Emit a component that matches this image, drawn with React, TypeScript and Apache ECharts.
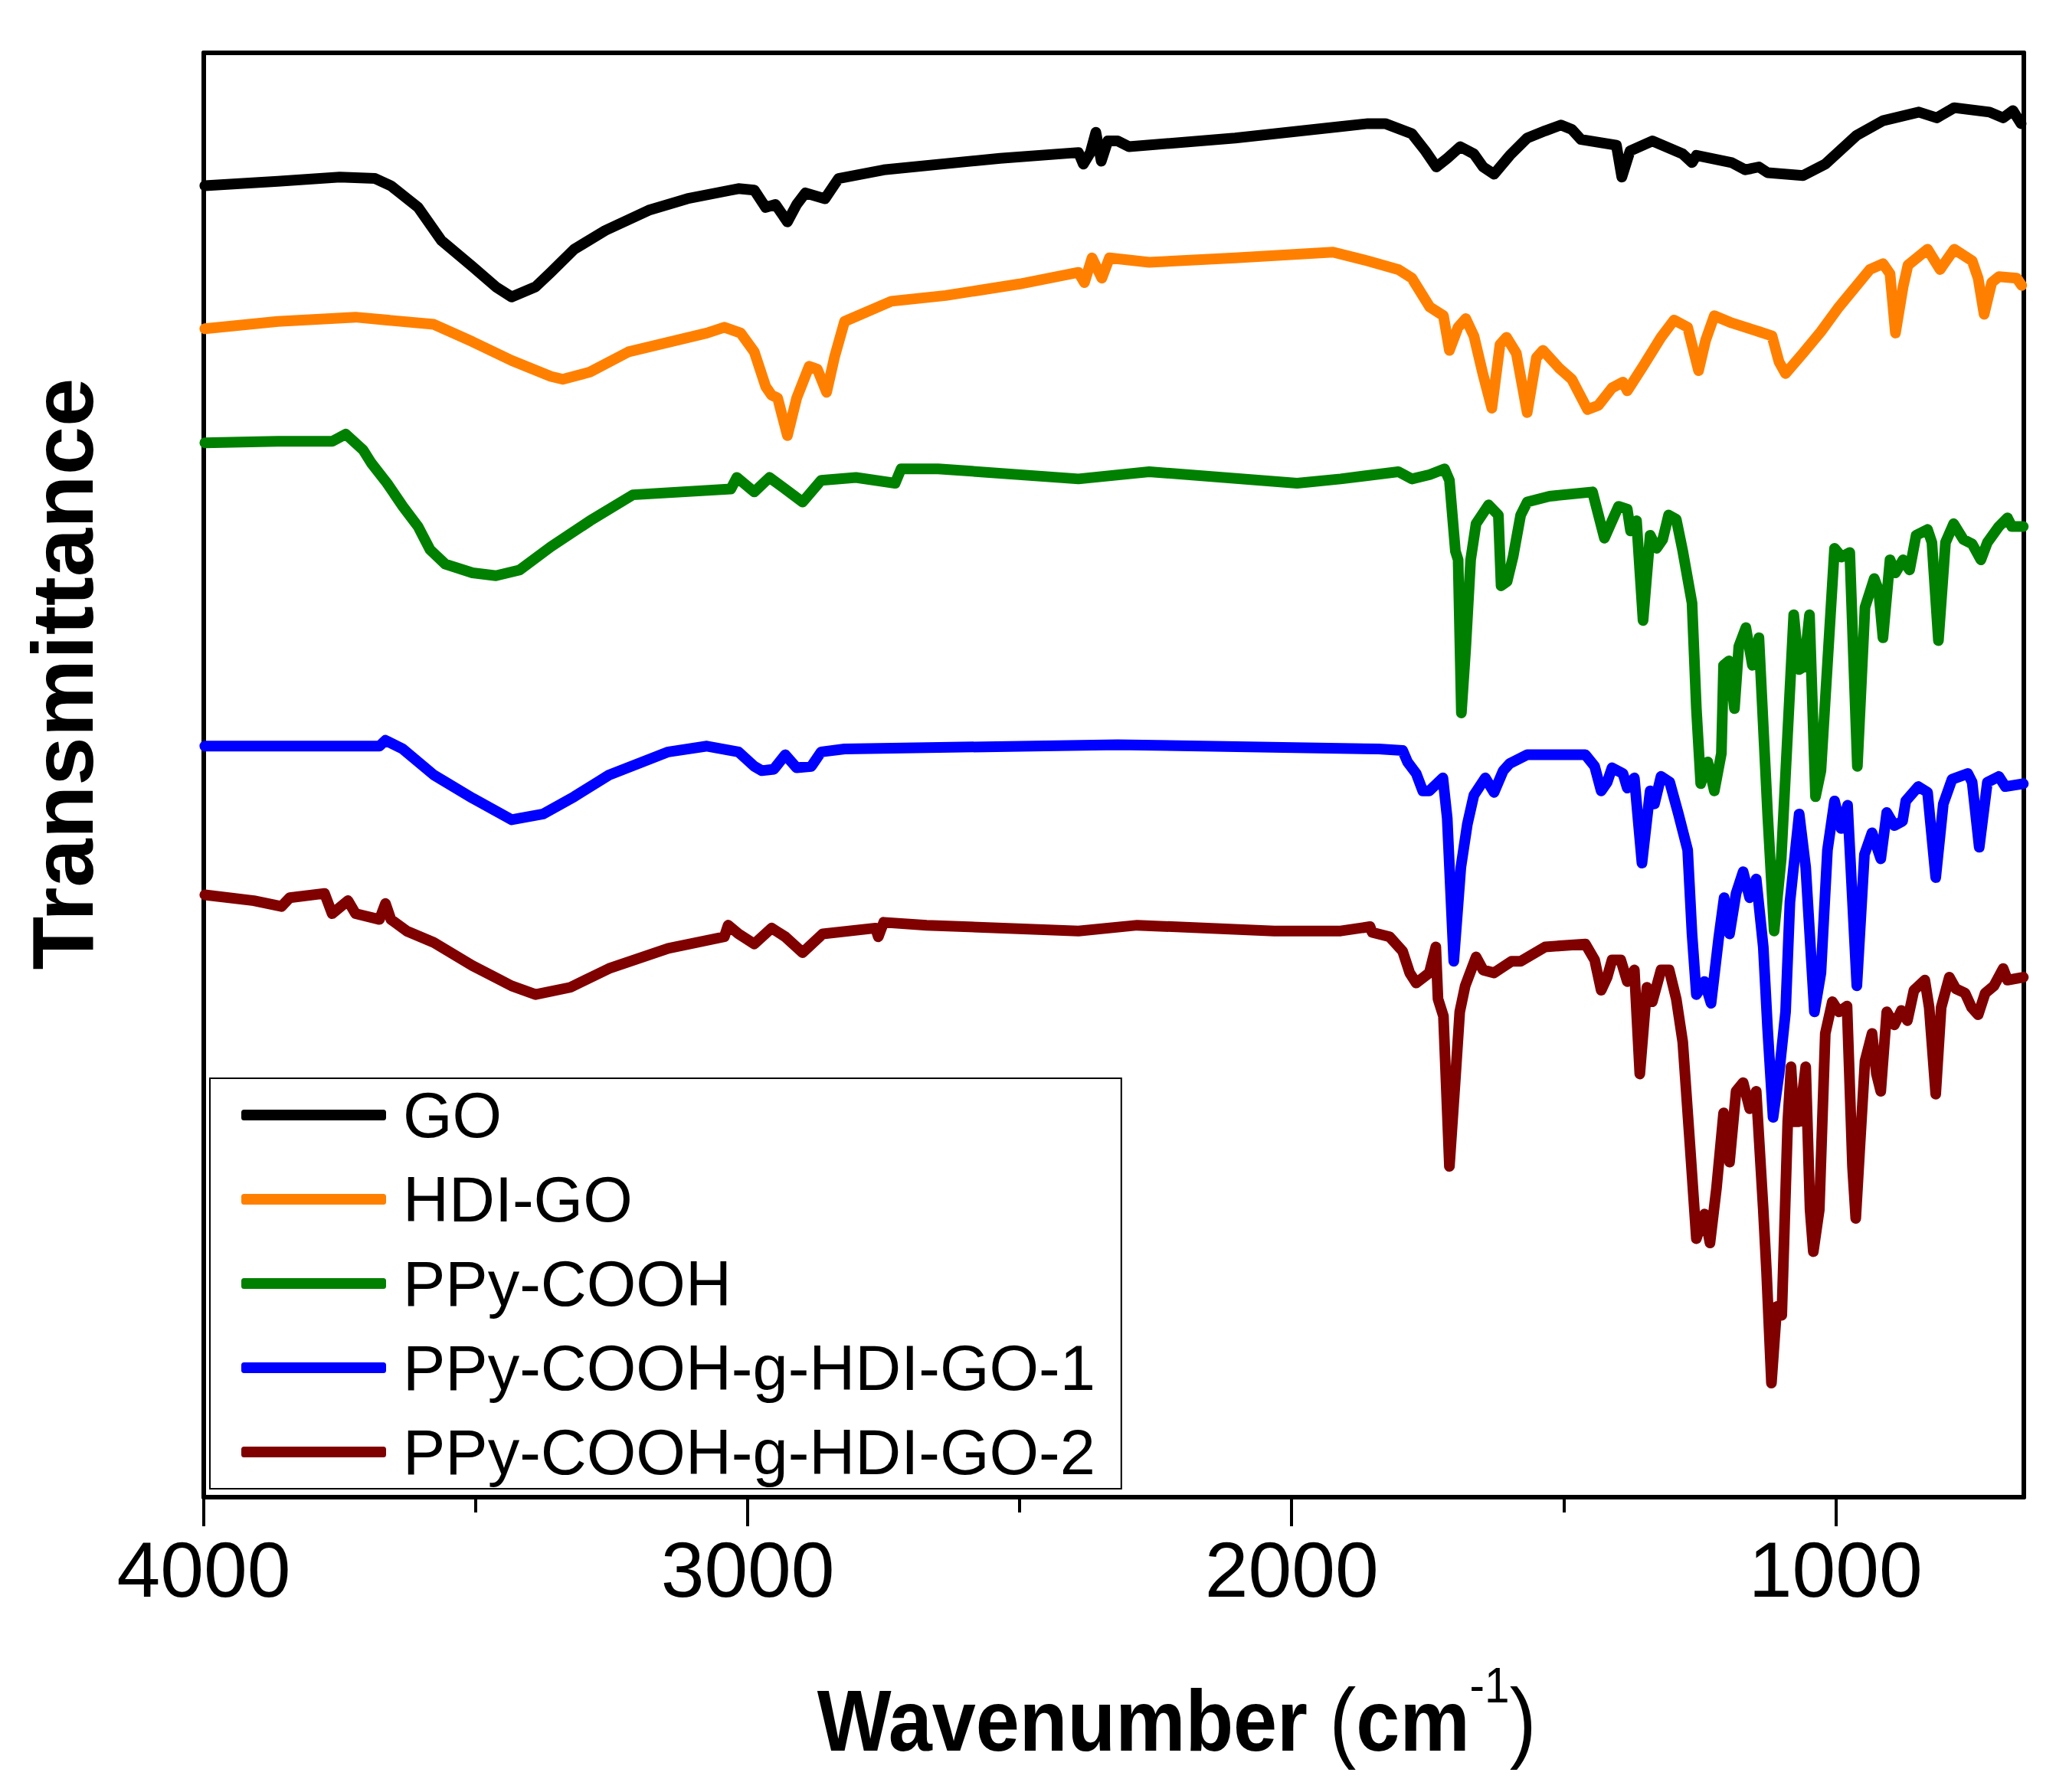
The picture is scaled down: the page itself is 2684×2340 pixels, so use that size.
import React, { useEffect, useRef } from "react";
import * as echarts from "echarts";

const SERIES_NAMES = ["GO", "HDI-GO", "PPy-COOH", "PPy-COOH-g-HDI-GO-1", "PPy-COOH-g-HDI-GO-2"];
const SERIES_COLORS = ["#000000", "#FF8000", "#008000", "#0000FF", "#800000"];

const X_MAJOR_TICKS = [1000, 2000, 3000, 4000];
const X_MINOR_TICKS = [1500, 2500, 3500];

// [wavenumber (cm-1), offset transmittance (a.u.)]
const GO_DATA: [number, number][] = [
  [3998, 90.8], [3864, 91.1], [3750, 91.4], [3685, 91.3], [3656, 90.8], [3606, 89.3], [3563, 87.0],
  [3506, 85.2], [3463, 83.8], [3434, 83.1], [3390, 83.8], [3362, 84.8], [3319, 86.4], [3262, 87.7],
  [3182, 89.1], [3111, 89.9], [3017, 90.6], [2988, 90.5], [2967, 89.3], [2949, 89.5], [2927, 88.3],
  [2910, 89.5], [2894, 90.3], [2858, 89.9], [2833, 91.3], [2750, 91.9], [2536, 92.7], [2392, 93.1],
  [2383, 92.3], [2370, 93.1], [2360, 94.5], [2350, 92.5], [2338, 93.9], [2320, 93.9], [2299, 93.5],
  [2104, 94.1], [1910, 94.9], [1860, 95.1], [1828, 95.1], [1779, 94.4], [1754, 93.2], [1734, 92.1],
  [1714, 92.7], [1690, 93.5], [1665, 93.0], [1648, 92.1], [1628, 91.6], [1599, 92.9], [1567, 94.1],
  [1534, 94.6], [1505, 95.0], [1485, 94.7], [1468, 94.0], [1403, 93.6], [1393, 91.4], [1378, 93.2],
  [1337, 93.9], [1281, 93.0], [1264, 92.4], [1256, 92.9], [1191, 92.4], [1166, 91.9], [1141, 92.1],
  [1125, 91.7], [1060, 91.5], [1019, 92.3], [961, 94.3], [913, 95.3], [847, 95.9], [814, 95.5],
  [782, 96.2], [717, 95.9], [692, 95.5], [674, 96.0], [659, 95.1],
];

const HDI_GO_DATA: [number, number][] = [
  [3998, 80.9], [3864, 81.4], [3721, 81.7], [3577, 81.2], [3506, 80.0], [3434, 78.7], [3362, 77.6],
  [3340, 77.4], [3290, 77.9], [3219, 79.3], [3075, 80.6], [3043, 81.0], [3013, 80.6], [2988, 79.3],
  [2967, 76.9], [2956, 76.3], [2945, 76.1], [2927, 73.5], [2910, 76.1], [2887, 78.3], [2872, 78.1],
  [2855, 76.5], [2840, 79.0], [2822, 81.4], [2736, 82.8], [2636, 83.2], [2500, 84.0], [2392, 84.8],
  [2381, 84.1], [2367, 85.8], [2349, 84.4], [2335, 85.8], [2262, 85.5], [2104, 85.8], [1924, 86.2],
  [1861, 85.6], [1804, 85.0], [1779, 84.4], [1746, 82.4], [1721, 81.8], [1710, 79.4], [1694, 81.0],
  [1680, 81.6], [1665, 80.4], [1648, 77.7], [1632, 75.4], [1617, 79.8], [1605, 80.3], [1587, 79.2],
  [1567, 75.1], [1550, 78.9], [1538, 79.4], [1509, 78.2], [1485, 77.4], [1456, 75.3], [1436, 75.6],
  [1411, 76.8], [1391, 77.2], [1383, 76.6], [1354, 78.3], [1321, 80.3], [1297, 81.5], [1272, 81.0],
  [1252, 78.0], [1239, 80.1], [1223, 81.8], [1191, 81.3], [1141, 80.7], [1117, 80.4], [1104, 78.6],
  [1092, 77.8], [1060, 79.2], [1027, 80.7], [994, 82.4], [937, 85.0], [913, 85.4], [900, 84.7],
  [890, 80.6], [876, 83.8], [867, 85.3], [831, 86.4], [808, 85.0], [782, 86.4], [749, 85.6],
  [738, 84.4], [727, 81.9], [713, 84.1], [700, 84.5], [667, 84.4], [658, 83.9],
];

const PPY_DATA: [number, number][] = [
  [3998, 73.0], [3864, 73.1], [3764, 73.1], [3739, 73.6], [3707, 72.5], [3692, 71.6], [3663, 70.2],
  [3634, 68.6], [3606, 67.2], [3584, 65.6], [3556, 64.6], [3506, 64.0], [3463, 63.8], [3419, 64.2],
  [3362, 65.8], [3290, 67.6], [3211, 69.4], [3031, 69.8], [3020, 70.6], [2988, 69.6], [2960, 70.6],
  [2931, 69.8], [2899, 68.9], [2865, 70.4], [2801, 70.6], [2729, 70.2], [2718, 71.2], [2650, 71.2],
  [2392, 70.5], [2262, 71.0], [1990, 70.2], [1910, 70.5], [1804, 71.0], [1779, 70.5], [1746, 70.8],
  [1719, 71.2], [1710, 70.4], [1699, 65.5], [1694, 64.9], [1688, 54.3], [1680, 58.8], [1671, 64.9],
  [1661, 67.4], [1638, 68.7], [1620, 68.0], [1615, 63.1], [1604, 63.4], [1593, 65.1], [1579, 68.0],
  [1567, 68.9], [1526, 69.3], [1447, 69.6], [1436, 68.0], [1425, 66.4], [1411, 67.6], [1399, 68.6],
  [1383, 68.4], [1377, 66.9], [1366, 67.6], [1354, 60.7], [1341, 66.6], [1329, 65.7], [1318, 66.3],
  [1307, 68.0], [1293, 67.7], [1281, 65.5], [1264, 61.9], [1256, 54.6], [1248, 49.4], [1235, 50.9],
  [1223, 48.9], [1210, 51.5], [1206, 57.6], [1196, 57.9], [1186, 54.6], [1178, 58.9], [1165, 60.2],
  [1153, 57.6], [1141, 59.5], [1125, 47.3], [1113, 39.2], [1100, 44.2], [1077, 61.1], [1067, 57.3],
  [1058, 57.5], [1048, 61.1], [1037, 48.5], [1027, 50.3], [1002, 65.7], [989, 65.1], [974, 65.4],
  [960, 50.6], [946, 61.6], [929, 63.6], [921, 62.8], [913, 59.5], [900, 64.9], [890, 64.0],
  [876, 64.9], [864, 64.2], [852, 66.6], [831, 67.0], [823, 66.1], [811, 59.3], [798, 66.1],
  [783, 67.4], [765, 66.3], [749, 66.0], [733, 64.9], [721, 66.1], [700, 67.2], [684, 67.8],
  [676, 67.2], [655, 67.2],
];

const PPY_GO1_DATA: [number, number][] = [
  [3998, 52.0], [3677, 52.0], [3666, 52.4], [3634, 51.8], [3577, 50.0], [3506, 48.4], [3434, 46.9],
  [3376, 47.3], [3319, 48.5], [3255, 50.0], [3146, 51.6], [3075, 52.0], [3017, 51.6], [2988, 50.6],
  [2974, 50.3], [2952, 50.4], [2931, 51.4], [2910, 50.5], [2883, 50.6], [2865, 51.6], [2822, 51.8],
  [2320, 52.1], [1840, 51.8], [1796, 51.7], [1787, 50.9], [1771, 50.1], [1759, 48.9], [1747, 48.9],
  [1722, 49.8], [1714, 47.0], [1702, 37.1], [1689, 43.6], [1677, 46.6], [1665, 48.6], [1644, 49.8],
  [1628, 48.8], [1611, 50.3], [1599, 50.8], [1567, 51.4], [1460, 51.4], [1443, 50.6], [1431, 48.9],
  [1420, 49.5], [1411, 50.5], [1391, 50.1], [1383, 49.1], [1370, 49.8], [1356, 43.9], [1341, 48.9],
  [1333, 48.0], [1321, 49.9], [1305, 49.5], [1289, 47.3], [1272, 44.8], [1264, 39.0], [1256, 34.8],
  [1241, 35.7], [1229, 34.2], [1215, 38.7], [1205, 41.5], [1195, 39.0], [1183, 41.8], [1170, 43.3],
  [1158, 41.5], [1146, 42.8], [1133, 38.1], [1125, 32.4], [1115, 26.3], [1104, 29.3], [1092, 33.6],
  [1084, 41.2], [1067, 47.3], [1055, 43.6], [1039, 33.6], [1027, 36.3], [1015, 44.8], [1002, 48.2],
  [990, 46.3], [978, 47.9], [961, 35.4], [947, 44.5], [933, 46.0], [917, 44.2], [906, 47.4],
  [892, 46.5], [877, 46.8], [871, 48.2], [848, 49.2], [831, 48.8], [816, 42.9], [802, 48.0],
  [786, 49.7], [757, 50.1], [749, 49.5], [736, 45.0], [721, 49.5], [700, 49.9], [688, 49.2],
  [655, 49.4],
];

const PPY_GO2_DATA: [number, number][] = [
  [3998, 41.7], [3908, 41.3], [3857, 40.9], [3842, 41.5], [3778, 41.8], [3764, 40.4], [3735, 41.3],
  [3721, 40.4], [3677, 40.0], [3666, 41.1], [3656, 40.0], [3627, 39.2], [3577, 38.4], [3506, 36.8],
  [3434, 35.4], [3390, 34.8], [3326, 35.3], [3255, 36.6], [3146, 38.0], [3043, 38.8], [3036, 39.6],
  [3017, 39.0], [2988, 38.3], [2956, 39.4], [2931, 38.8], [2899, 37.7], [2862, 39.0], [2765, 39.4],
  [2760, 38.8], [2750, 39.8], [2671, 39.6], [2392, 39.2], [2284, 39.6], [2032, 39.2], [1910, 39.2],
  [1856, 39.5], [1852, 39.1], [1820, 38.8], [1796, 37.8], [1783, 36.3], [1771, 35.6], [1747, 36.3],
  [1735, 38.1], [1731, 34.5], [1721, 33.3], [1710, 22.9], [1699, 29.0], [1691, 33.6], [1681, 35.4],
  [1661, 37.4], [1648, 36.5], [1628, 36.3], [1596, 37.1], [1579, 37.1], [1534, 38.1], [1460, 38.3],
  [1443, 37.2], [1431, 35.1], [1420, 36.0], [1411, 37.2], [1395, 37.2], [1383, 35.7], [1370, 36.5],
  [1360, 29.3], [1347, 35.3], [1337, 34.3], [1321, 36.5], [1306, 36.5], [1293, 34.5], [1281, 31.5],
  [1268, 24.5], [1256, 17.9], [1241, 19.6], [1231, 17.6], [1219, 21.4], [1206, 26.6], [1195, 23.2],
  [1183, 28.1], [1170, 28.7], [1158, 26.9], [1146, 28.1], [1133, 19.9], [1127, 15.6], [1118, 7.9],
  [1108, 13.2], [1099, 12.6], [1088, 26.0], [1082, 29.8], [1076, 26.0], [1067, 26.0], [1055, 29.8],
  [1047, 19.9], [1041, 17.0], [1030, 19.9], [1019, 32.1], [1006, 34.3], [994, 33.6], [979, 34.0],
  [969, 22.9], [963, 19.3], [955, 24.5], [946, 30.2], [933, 32.1], [925, 29.3], [917, 28.1],
  [906, 33.6], [892, 32.7], [879, 33.7], [868, 33.0], [856, 35.1], [836, 35.8], [828, 33.9],
  [816, 27.9], [806, 33.9], [791, 36.0], [779, 35.2], [762, 34.9], [750, 33.9], [738, 33.4],
  [725, 34.9], [709, 35.4], [692, 36.6], [684, 35.8], [655, 36.0],
];

const ALL_DATA = [GO_DATA, HDI_GO_DATA, PPY_DATA, PPY_GO1_DATA, PPY_GO2_DATA];

const FONT = "'Liberation Sans', Arial, Helvetica, sans-serif";

export default function App() {
  const ref = useRef<HTMLDivElement>(null);

  useEffect(() => {
    if (!ref.current) return;
    const chart = echarts.init(ref.current, null, { renderer: "svg" });
    const X_MIN = 654;
    const X_MAX = 4000;

    const option: any = {
      animation: false,
      backgroundColor: "#ffffff",
      grid: { left: 266, top: 69, width: 2376, height: 1886, containLabel: false },
      xAxis: [
        {
          type: "value",
          min: X_MIN,
          max: X_MAX,
          inverse: true,
          position: "bottom",
          axisLine: { show: true, lineStyle: { color: "#000", width: 6 } },
          axisTick: {
            show: true,
            inside: false,
            length: 38,
            customValues: X_MAJOR_TICKS,
            lineStyle: { color: "#000", width: 4 },
          },
          axisLabel: {
            show: true,
            customValues: X_MAJOR_TICKS,
            formatter: (v: number) => String(v),
            margin: 44,
            fontSize: 102,
            fontFamily: FONT,
            color: "#000",
          },
          splitLine: { show: false },
        },
        {
          type: "value",
          min: X_MIN,
          max: X_MAX,
          inverse: true,
          position: "bottom",
          axisLine: { show: false },
          axisTick: {
            show: true,
            inside: false,
            length: 20,
            customValues: X_MINOR_TICKS,
            lineStyle: { color: "#000", width: 4 },
          },
          axisLabel: { show: false },
          splitLine: { show: false },
        },
        {
          type: "value",
          min: X_MIN,
          max: X_MAX,
          inverse: true,
          position: "top",
          axisLine: { show: true, lineStyle: { color: "#000", width: 6 } },
          axisTick: { show: false },
          axisLabel: { show: false },
          splitLine: { show: false },
        },
      ],
      yAxis: [
        {
          type: "value",
          min: 0,
          max: 100,
          position: "left",
          axisLine: { show: true, lineStyle: { color: "#000", width: 6 } },
          axisTick: { show: false },
          axisLabel: { show: false },
          splitLine: { show: false },
        },
        {
          type: "value",
          min: 0,
          max: 100,
          position: "right",
          axisLine: { show: true, lineStyle: { color: "#000", width: 6 } },
          axisTick: { show: false },
          axisLabel: { show: false },
          splitLine: { show: false },
        },
      ],
      legend: {
        show: true,
        orient: "vertical",
        left: 274,
        top: 1408,
        data: SERIES_NAMES,
        selectedMode: false,
        icon: "roundRect",
        itemWidth: 189,
        itemHeight: 14,
        itemGap: 14,
        padding: [0, 34, 0, 41],
        borderColor: "#000",
        borderWidth: 2,
        backgroundColor: "#ffffff",
        textStyle: {
          fontSize: 83,
          lineHeight: 96,
          fontFamily: FONT,
          color: "#000",
          padding: [0, 0, 0, 17],
        },
      },
      series: SERIES_NAMES.map((name, i) => ({
        name,
        type: "line",
        xAxisIndex: 0,
        yAxisIndex: 0,
        data: ALL_DATA[i],
        symbol: "none",
        showSymbol: false,
        smooth: false,
        color: SERIES_COLORS[i],
        itemStyle: { color: SERIES_COLORS[i] },
        lineStyle: { color: SERIES_COLORS[i], width: 14, cap: "round", join: "round" },
        z: 2 + i,
      })),
      graphic: [
        {
          type: "text",
          x: 81,
          y: 880,
          rotation: Math.PI / 2,
          style: {
            text: "Transmittance",
            fontSize: 114,
            fontWeight: "bold",
            fontFamily: FONT,
            fill: "#000",
            align: "center",
            verticalAlign: "middle",
          },
        },
        {
          type: "text",
          x: 1536,
          y: 2247,
          scaleX: 0.9,
          style: {
            text: "{b|Wavenumber }{n|(}{b|cm}{s|-1}{n|)}",
            align: "center",
            verticalAlign: "middle",
            fill: "#000",
            rich: {
              b: { fontSize: 114, fontWeight: "bold", fontFamily: FONT, lineHeight: 130, fill: "#000" },
              n: { fontSize: 116, fontWeight: "normal", fontFamily: FONT, lineHeight: 130, fill: "#000" },
              s: {
                fontSize: 65,
                fontWeight: "normal",
                fontFamily: FONT,
                lineHeight: 70,
                padding: [0, 0, 93, 0],
                fill: "#000",
              },
            },
          },
        },
      ],
    };

    chart.setOption(option);
    return () => {
      chart.dispose();
    };
  }, []);

  return (
    <div
      ref={ref}
      style={{ position: "absolute", left: 0, top: 0, width: 2684, height: 2340, background: "#fff" }}
    />
  );
}
